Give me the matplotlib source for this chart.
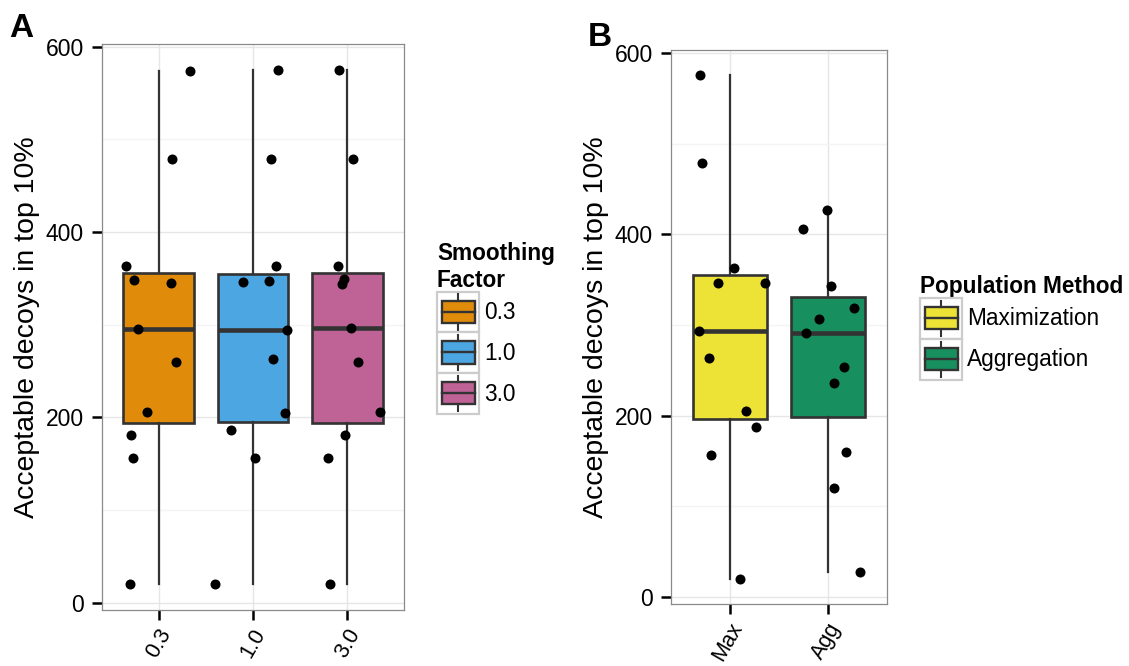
import matplotlib
matplotlib.use("Agg")
import matplotlib.pyplot as plt
import numpy as np
from matplotlib.patches import Rectangle
from matplotlib.lines import Line2D
from matplotlib.legend_handler import HandlerBase
from matplotlib.ticker import MultipleLocator
from matplotlib.transforms import ScaledTranslation

plt.rcParams["font.family"] = ["Liberation Sans", "DejaVu Sans"]

# panel A - smoothing factor
factor_ticks = ["0.3", "1.0", "3.0"]
decoys_03 = [574, 479, 363, 348, 345, 295.5, 260, 206, 181.5, 156, 20]
decoys_10 = [575, 479, 363, 346, 347, 294, 263.5, 204.5, 186.5, 156.6, 20]
decoys_30 = [575, 479, 363, 349, 344, 296, 259.5, 206, 181.5, 156, 20]
# horizontal jitter of the points (category units)
jitter_03 = [0.335, 0.14, -0.345, -0.264, 0.127, -0.219, 0.187, -0.119, -0.296, -0.267, -0.307]
jitter_10 = [0.261, 0.187, 0.246, -0.106, 0.172, 0.359, 0.211, 0.338, -0.233, 0.021, -0.399]
jitter_30 = [-0.085, 0.06, -0.103, -0.032, -0.056, 0.042, 0.116, 0.349, -0.021, -0.204, -0.18]
factor_colors = ["#E08C0A", "#4BA6E1", "#BF6296"]

# panel B - population method
method_ticks = ["Max", "Agg"]
method_names = ["Maximization", "Aggregation"]
decoys_max = [575.5, 478.5, 362.6, 346.6, 346.2, 293.4, 263.7, 205.2, 186.8, 156.8, 19.8]
decoys_agg = [427, 406, 342.5, 318.7, 306, 290.9, 253.5, 236.3, 159.8, 119.5, 27.5]
jitter_max = [-0.308, -0.288, 0.038, -0.122, 0.356, -0.311, -0.21, 0.16, 0.269, -0.193, 0.099]
jitter_agg = [-0.01, -0.254, 0.031, 0.264, -0.089, -0.228, 0.163, 0.064, 0.179, 0.057, 0.321]
method_colors = ["#EDE236", "#178F5E"]

EDGE = "#333333"


class BoxKey(HandlerBase):
    def create_artists(self, legend, orig_handle, xdescent, ydescent,
                       width, height, fontsize, trans):
        x0, y0 = -xdescent, -ydescent
        fc = orig_handle.get_facecolor()
        frame = Rectangle((x0, y0), width, height, fc="white", ec="#CCCCCC",
                          lw=1.6, transform=trans)
        box = Rectangle((x0 + 0.12 * width, y0 + 0.24 * height), 0.78 * width,
                        0.54 * height, fc=fc, ec=EDGE, lw=1.7, transform=trans)
        cx = x0 + 0.51 * width
        med = Line2D([x0 + 0.12 * width, x0 + 0.9 * width], [y0 + 0.51 * height] * 2,
                     color=EDGE, lw=1.7, transform=trans)
        lo = Line2D([cx, cx], [y0 + 0.07 * height, y0 + 0.24 * height],
                    color=EDGE, lw=1.5, transform=trans)
        hi = Line2D([cx, cx], [y0 + 0.78 * height, y0 + 0.93 * height],
                    color=EDGE, lw=1.5, transform=trans)
        return [frame, box, med, lo, hi]


def draw_panel(ax, groups, jitters, colors, ticks):
    pos = np.arange(1, len(groups) + 1)
    bp = ax.boxplot(groups, positions=pos, widths=0.75, patch_artist=True,
                    showfliers=False, showcaps=False,
                    boxprops=dict(edgecolor=EDGE, linewidth=1.9),
                    whiskerprops=dict(color=EDGE, linewidth=1.6),
                    medianprops=dict(color=EDGE, linewidth=3.3))
    for patch, c in zip(bp["boxes"], colors):
        patch.set_facecolor(c)
    for p, vals, jit in zip(pos, groups, jitters):
        ax.scatter(p + np.array(jit), vals, s=52, color="black", lw=0, zorder=4)

    allv = np.concatenate(groups)
    rng = allv.max() - allv.min()
    ax.set_ylim(allv.min() - 0.05 * rng, allv.max() + 0.05 * rng)
    ax.set_xlim(0.4, len(groups) + 0.6)
    ax.set_xticks(pos)
    ax.set_yticks([0, 200, 400, 600])
    ax.yaxis.set_minor_locator(MultipleLocator(100))
    ax.set_axisbelow(True)
    ax.grid(which="major", color="#E6E6E6", lw=1.0)
    ax.grid(which="minor", axis="y", color="#F4F4F4", lw=1.0)
    ax.tick_params(which="minor", length=0)
    ax.tick_params(which="major", length=7, width=1.8, color="black",
                   pad=6, labelcolor="black")
    ax.tick_params(axis="y", labelsize=16.5)
    ax.set_xticklabels(ticks, rotation=60, ha="right", rotation_mode="anchor",
                       va="center", fontsize=15.5)
    off = ScaledTranslation(8 / 100, -2 / 100, ax.figure.dpi_scale_trans)
    for lab in ax.get_xticklabels():
        lab.set_transform(lab.get_transform() + off)
    for s in ax.spines.values():
        s.set_color("#8A8A8A")
        s.set_linewidth(0.9)
    ax.set_ylabel("Acceptable decoys in top 10%", fontsize=20.5, labelpad=4)


W, H = 1129, 666
fig = plt.figure(figsize=(W / 100, H / 100), dpi=100)


def px_axes(l, t, r, b):
    return fig.add_axes([l / W, 1 - b / H, (r - l) / W, (b - t) / H])


axA = px_axes(102, 44, 404, 610)
draw_panel(axA, [decoys_03, decoys_10, decoys_30],
           [jitter_03, jitter_10, jitter_30], factor_colors, factor_ticks)
axB = px_axes(671, 50, 887, 604)
draw_panel(axB, [decoys_max, decoys_agg], [jitter_max, jitter_agg],
           method_colors, method_ticks)

fig.text(9 / W, 1 - 13 / H, "A", fontsize=24, fontweight="bold", va="top")
fig.text(588 / W, 1 - 22 / H, "B", fontsize=24, fontweight="bold", va="top")

leg_kw = dict(loc="upper left", fontsize=16.3, frameon=False, alignment="left",
              title_fontproperties={"weight": "bold", "size": 16.3},
              handler_map={Rectangle: BoxKey()}, handlelength=1.85,
              handleheight=2.4, handletextpad=0.22, labelspacing=0,
              borderpad=0, borderaxespad=0)

handlesA = [Rectangle((0, 0), 1, 1, fc=c) for c in factor_colors]
fig.legend(handlesA, factor_ticks, title="Smoothing\nFactor",
           bbox_to_anchor=(437 / W, 1 - 242 / H), **leg_kw)
handlesB = [Rectangle((0, 0), 1, 1, fc=c) for c in method_colors]
fig.legend(handlesB, method_names, title="Population Method",
           bbox_to_anchor=(920 / W, 1 - 275 / H), **leg_kw)

fig.savefig("out.png", dpi=100)
